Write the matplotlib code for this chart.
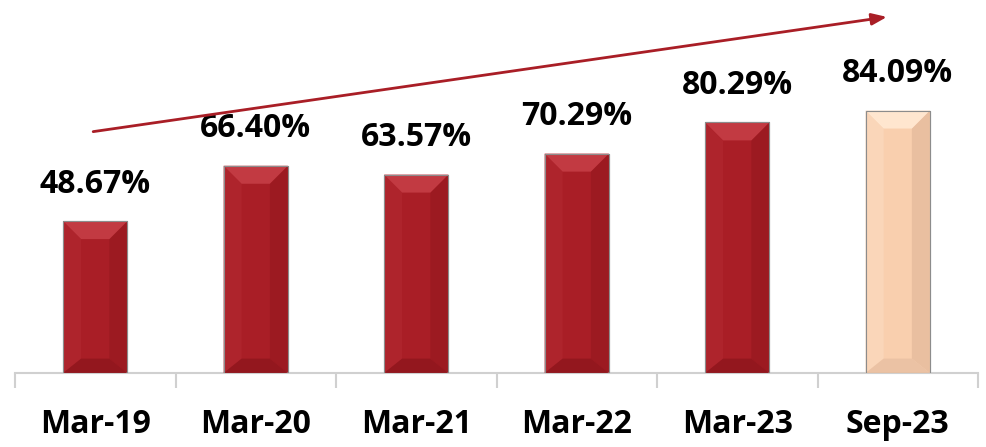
import matplotlib
matplotlib.use("Agg")
import matplotlib.pyplot as plt
from matplotlib.patches import Polygon
import numpy as np

categories = ["Mar-19", "Mar-20", "Mar-21", "Mar-22", "Mar-23", "Sep-23"]
values = [48.67, 66.40, 63.57, 70.29, 80.29, 84.09]
labels = ["48.67%", "66.40%", "63.57%", "70.29%", "80.29%", "84.09%"]

RED = "#A91E26"
PEACH = "#F9CFAE"
colors = [RED] * 5 + [PEACH]
bevel_top = ["#C23A42"] * 5 + ["#FFE6CF"]
bevel_side_l = ["#AE242C"] * 5 + ["#FAD6B9"]
bevel_side_r = ["#9C1A21"] * 5 + ["#E9BFA0"]
bevel_bot = ["#93171E"] * 5 + ["#EBC2A4"]

plt.rcParams['font.family'] = ['Open Sans', 'DejaVu Sans']

fig = plt.figure(figsize=(9.86, 4.47), dpi=100)
ax = fig.add_axes([15 / 986, 74 / 447, 963 / 986, 373 / 447])
x = np.arange(len(categories))
width = 0.4
bars = ax.bar(x, values, width=width, color=colors, edgecolor="#8C8C8C",
              linewidth=0.8, zorder=2)
ax.set_xlim(-0.5, len(categories) - 0.5)
ax.set_ylim(0, 119.5)

# bevel effect (sizes in pixels converted to data units)
px_x = 1.0 / 160.5
px_y = 1.0 / 3.12
bx, by = 18 * px_x, 18 * px_y
for i, b in enumerate(bars):
    x0, x1 = b.get_x(), b.get_x() + b.get_width()
    y0, y1 = 0, b.get_height()
    top = [(x0, y1), (x1, y1), (x1 - bx, y1 - by), (x0 + bx, y1 - by)]
    bot = [(x0, y0), (x1, y0), (x1 - bx, y0 + by * 0.8), (x0 + bx, y0 + by * 0.8)]
    left = [(x0, y0), (x0, y1), (x0 + bx, y1 - by), (x0 + bx, y0 + by * 0.8)]
    right = [(x1, y0), (x1, y1), (x1 - bx, y1 - by), (x1 - bx, y0 + by * 0.8)]
    for poly, c in ((left, bevel_side_l[i]), (right, bevel_side_r[i]),
                    (bot, bevel_bot[i]), (top, bevel_top[i])):
        ax.add_patch(Polygon(poly, closed=True, facecolor=c, edgecolor="none",
                             zorder=3))
    ax.add_patch(plt.Rectangle((x0, y0), x1 - x0, y1, fill=False,
                               edgecolor="#8C8C8C", linewidth=0.8, zorder=4))
    ax.text(b.get_x() + b.get_width() / 2, y1 + 6.5, labels[i], ha="center",
            va="bottom", fontsize=23, fontweight="bold", color="black")

# trend arrow
ax.annotate("", xy=(4.95, 114.2), xytext=(-0.03, 77.2),
            arrowprops=dict(arrowstyle="-|>,head_length=0.9,head_width=0.35",
                            color="#A91E26", lw=2), zorder=5)

for s in ["top", "right", "left"]:
    ax.spines[s].set_visible(False)
ax.spines["bottom"].set_color("#D0D0D0")
ax.spines["bottom"].set_linewidth(1.5)
ax.set_yticks([])
ax.set_xticks(np.arange(-0.5, len(categories), 1.0), minor=False)
ax.set_xticklabels([])
ax.tick_params(axis="x", which="major", length=11, width=1.5, color="#D0D0D0")
ax.set_xticks(x, minor=True)
ax.set_xticklabels(categories, minor=True, fontsize=23, fontweight="bold")
ax.tick_params(axis="x", which="minor", length=0, pad=25)

fig.savefig("out.png", dpi=100)
